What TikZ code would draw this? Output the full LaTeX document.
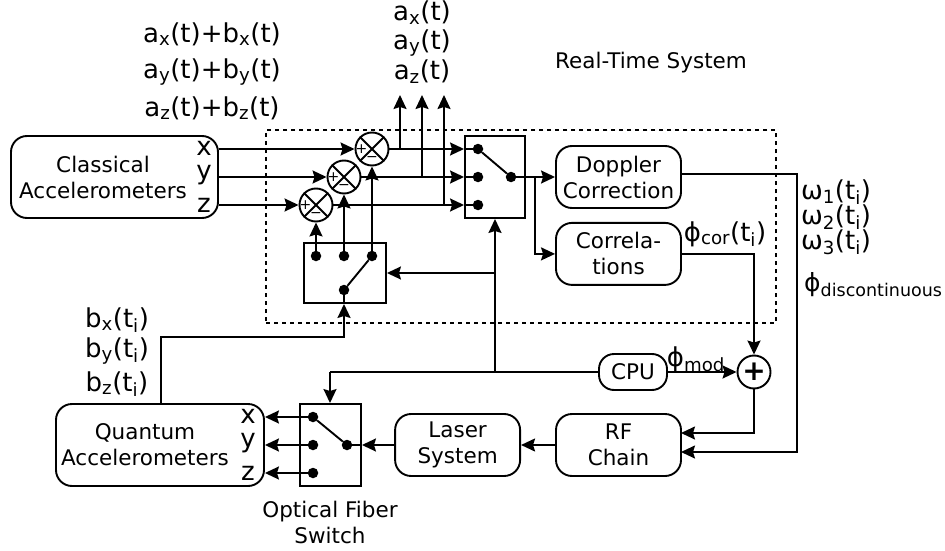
\documentclass[tikz,border=0pt]{standalone}
\usepackage{fontspec}
\setmainfont{DejaVu Sans}
\usetikzlibrary{arrows.meta, positioning, calc}
\newcommand{\sizeblock}{\fontsize{21.5}{26}\selectfont}
\newcommand{\sizelabel}{\fontsize{26}{30}\selectfont}
\newcommand{\sizesign}{\fontsize{14}{14}\selectfont}
\tikzset{
    conn/.style={line width=1.9pt, line join=miter},
    arrow/.style={conn, -{Stealth[length=14pt, width=13pt, inset=2pt]}},
    block/.style={rectangle, rounded corners=16pt, draw, line width=1.9pt, align=center, font=\sizeblock, inner sep=0pt},
    switchbox/.style={rectangle, draw, line width=1.9pt, inner sep=0pt},
    contact/.style={circle, fill=black, minimum size=10.5pt, inner sep=0pt},
    mixer/.style={circle, draw, line width=1.9pt, fill=white, minimum size=33pt, inner sep=0pt},
    sign/.style={font=\sizesign, inner sep=0pt},
    axis letter/.style={font=\sizelabel, inner sep=0pt},
    signal/.style={font=\sizelabel, inner sep=0pt, align=left},
    caption/.style={font=\sizeblock, inner sep=0pt, align=center}
}

\begin{document}
\begin{tikzpicture}[x=1pt, y=-1pt]
    \useasboundingbox (0,0) rectangle (945,551);

    % real-time frame
    \node[rectangle, draw, line width=1.9pt, dashed, dash pattern=on 4pt off 4pt, minimum width=510pt, minimum height=193pt] (realtime) at (521,226.5) {};

    % blocks
    \node[block, minimum width=207pt, minimum height=82pt] (classical) at (114.5,177) {};
    \node[block, minimum width=125pt, minimum height=62pt] (doppler) at (618.5,177) {Doppler\\Correction};
    \node[block, minimum width=125pt, minimum height=62pt, below=13pt of doppler] (corr) {Correla-\\tions};
    \node[block, minimum width=125pt, minimum height=62pt] (rf) at (618.5,445) {RF\\Chain};
    \node[block, minimum width=125pt, minimum height=62pt, left=34pt of rf] (laser) {Laser\\System};
    \node[block, minimum width=68pt, minimum height=36pt, rounded corners=15pt] (cpu) at (633,372) {CPU};
    \node[block, minimum width=208pt, minimum height=82pt] (quantum) at (160,445) {};
    \node[caption] at (103,177) {Classical\\Accelerometers};
    \node[caption] at (145,445) {Quantum\\Accelerometers};

    % axis letters
    \node[axis letter] (cx) at (204,148) {x};
    \node[axis letter] (cy) at (204,175) {y};
    \node[axis letter] (cz) at (204,205) {z};
    \node[axis letter] (qx) at (248,416) {x};
    \node[axis letter] (qy) at (248,443) {y};
    \node[axis letter] (qz) at (248,473) {z};

    % switches
    \node[switchbox, minimum width=60pt, minimum height=82pt] (swin) at (495,177) {};
    \node[switchbox, minimum width=82pt, minimum height=60pt] (swback) at (345,273) {};
    \node[switchbox, minimum width=61pt, minimum height=82pt] (swopt) at (330.5,445) {};

    \node[contact] (swinx) at (478,149) {};
    \node[contact] (swiny) at (478,177) {};
    \node[contact] (swinz) at (478,205) {};
    \node[contact] (swinout) at (511,177) {};
    \node[contact] (swbackz) at (316,256) {};
    \node[contact] (swbacky) at (344,256) {};
    \node[contact] (swbackx) at (372,256) {};
    \node[contact] (swbackin) at (344,290) {};
    \node[contact] (swoptx) at (313,417) {};
    \node[contact] (swopty) at (313,445) {};
    \node[contact] (swoptz) at (313,473) {};
    \node[contact] (swoptin) at (347,445) {};

    \draw[conn] (swinx) -- (swinout);
    \draw[conn] (swbackx) -- (swbackin);
    \draw[conn] (swoptx) -- (swoptin);

    % mixers
    \node[mixer] (mixx) at (372,149) {};
    \node[mixer] (mixy) at (344,177) {};
    \node[mixer] (mixz) at (316,205) {};
    \draw[conn] (mixx.45) -- (mixx.225) (mixx.135) -- (mixx.315);
    \draw[conn] (mixy.45) -- (mixy.225) (mixy.135) -- (mixy.315);
    \draw[conn] (mixz.45) -- (mixz.225) (mixz.135) -- (mixz.315);
    \node[sign] at ($(mixx.west)+(7,0)$) {+};
    \node[sign] at ($(mixy.west)+(7,0)$) {+};
    \node[sign] at ($(mixz.west)+(7,0)$) {+};
    \node[sign] at ($(mixx.south)+(0,-7)$) {−};
    \node[sign] at ($(mixy.south)+(0,-7)$) {−};
    \node[sign] at ($(mixz.south)+(0,-7)$) {−};

    % sum
    \node[circle, draw, line width=1.9pt, minimum size=33pt, inner sep=0pt, font=\fontsize{28}{28}\selectfont\bfseries] (sum) at (754,372) {+};

    % helper points
    \coordinate (tapx) at (400,149);
    \coordinate (tapy) at (422,177);
    \coordinate (tapz) at (444,205);
    \coordinate (outx) at (400,95);
    \coordinate (outy) at (422,95);
    \coordinate (outz) at (444,95);
    \coordinate (branch) at (535,177);
    \coordinate (dopout) at (681,174);
    \coordinate (dopbus) at (797,174);
    \coordinate (rfomega) at (681,452);
    \coordinate (rfsum) at (681,433);
    \coordinate (swjoin) at (495,372);
    \coordinate (backjoin) at (495,273);
    \coordinate (optjoin) at (330,372);
    \coordinate (qout) at (161,404);
    \coordinate (qbus) at (161,337);

    % inputs
    \draw[arrow] (classical.east |- mixx) -- (mixx.west);
    \draw[arrow] (classical.east |- mixy) -- (mixy.west);
    \draw[arrow] (classical.east |- mixz) -- (mixz.west);
    \draw[arrow] (mixx.east) -- (swin.west |- mixx);
    \draw[arrow] (mixy.east) -- (swin.west |- mixy);
    \draw[arrow] (mixz.east) -- (swin.west |- mixz);
    \draw[conn] (swin.west |- mixx) -- (swinx);
    \draw[conn] (swin.west |- mixy) -- (swiny);
    \draw[conn] (swin.west |- mixz) -- (swinz);
    \draw[arrow] (tapx) -- (outx);
    \draw[arrow] (tapy) -- (outy);
    \draw[arrow] (tapz) -- (outz);

    % feedback
    \draw[arrow] (swbackz) -- (mixz.south);
    \draw[arrow] (swbacky) -- (mixy.south);
    \draw[arrow] (swbackx) -- (mixx.south);
    \draw[conn] (swback.south -| swbackin) -- (swbackin);
    \draw[arrow] (qout) -- (qbus) -| (swback.south -| swbackin);
    \draw[arrow] (swinout) -- (doppler.west);
    \draw[arrow] (branch) |- (corr.west);
    \draw[arrow] (swjoin) -- (swin.south);
    \draw[arrow] (backjoin) -- (swback.east);

    % lower chain
    \draw[conn] (cpu.west) -- (optjoin);
    \draw[arrow] (optjoin) -- (swopt.north -| optjoin);
    \draw[arrow] (cpu.east) -- (sum.west);
    \draw[arrow] (corr.east) -| (sum.north);
    \draw[arrow] (sum.south) |- (rfsum);
    \draw[arrow] (dopout) -- (dopbus) |- (rfomega);
    \draw[arrow] (rf.west) -- (laser.east);
    \draw[arrow] (laser.west) -- (swopt.east);
    \draw[conn] (swopt.east) -- (swoptin);
    \draw[arrow] (swoptx) -- (quantum.east |- swoptx);
    \draw[arrow] (swopty) -- (quantum.east |- swopty);
    \draw[arrow] (swoptz) -- (quantum.east |- swoptz);

    % signal labels
    \node[signal] at (212,34) {a\textsubscript{x}(t)+b\textsubscript{x}(t)};
    \node[signal] at (212,72) {a\textsubscript{y}(t)+b\textsubscript{y}(t)};
    \node[signal] at (212,108) {a\textsubscript{z}(t)+b\textsubscript{z}(t)};
    \node[signal] at (422,13) {a\textsubscript{x}(t)};
    \node[signal] at (422,43) {a\textsubscript{y}(t)};
    \node[signal] at (422,72) {a\textsubscript{z}(t)};
    \node[caption] at (651,63) {Real-Time System};
    \node[signal] at (836,192) {ω\textsubscript{1}(t\textsubscript{i})};
    \node[signal] at (836,217) {ω\textsubscript{2}(t\textsubscript{i})};
    \node[signal] at (836,242) {ω\textsubscript{3}(t\textsubscript{i})};
    \node[signal, anchor=west, font=\fontsize{25}{30}\selectfont] at (804,285) {ϕ\textsubscript{discontinuous}};
    \node[signal] at (725,234) {ϕ\textsubscript{cor}(t\textsubscript{i})};
    \node[signal] at (696,359) {ϕ\textsubscript{mod}};
    \node[signal] at (117,320) {b\textsubscript{x}(t\textsubscript{i})};
    \node[signal] at (117,351) {b\textsubscript{y}(t\textsubscript{i})};
    \node[signal] at (117,384) {b\textsubscript{z}(t\textsubscript{i})};
    \node[caption] at (330,522) {Optical Fiber\\Switch};
\end{tikzpicture}
\end{document}
